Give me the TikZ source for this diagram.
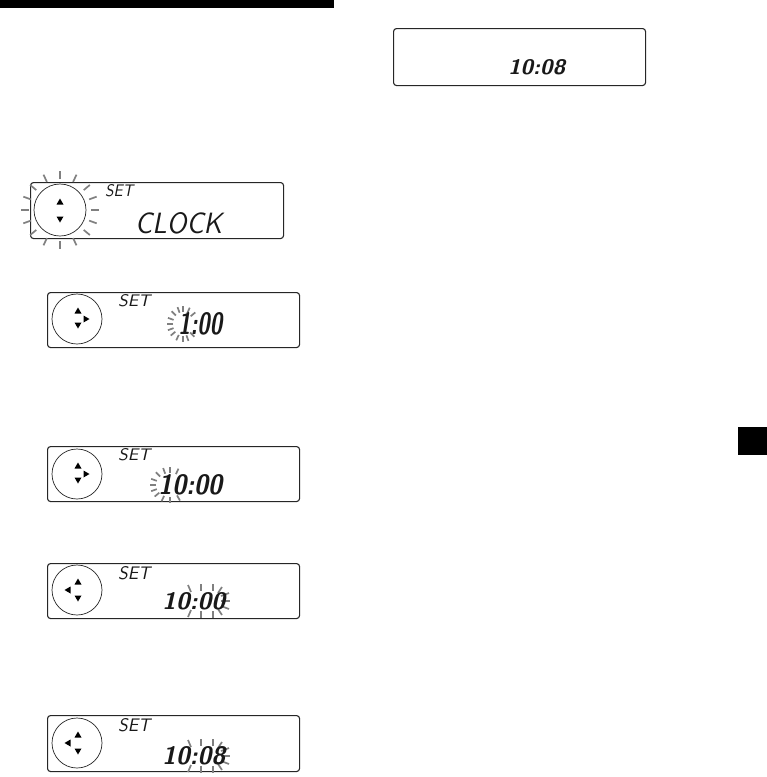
\documentclass[tikz,border=0pt]{standalone}
\usepackage{graphicx}
\tikzset{
 disp/.style={draw=black!85, line width=1.1pt, rounded corners=3pt, inner sep=0pt, anchor=north west},
 btn/.style={draw=black!85, line width=0.7pt, circle, inner sep=0pt},
 ray/.style={draw=black!50, line width=1.7pt},
 lcd/.style={inner sep=0pt, anchor=south west, text=black!90},
}
\newcommand{\lcdtext}[3]{\resizebox{#1pt}{#2pt}{\sffamily\itshape #3}}
\newcommand{\lcdnum}[3]{\resizebox{#1pt}{#2pt}{\sffamily\bfseries\itshape #3}}
\newcommand{\triup}[2]{\fill[shift={(#1,#2)}] (-3.5,2.5) -- (3.5,2.5) -- (0,-3.5) -- cycle;}
\newcommand{\tridown}[2]{\fill[shift={(#1,#2)}] (-3.5,-2.5) -- (3.5,-2.5) -- (0,3.5) -- cycle;}
\newcommand{\triright}[2]{\fill[shift={(#1,#2)}] (-2.5,-3.5) -- (-2.5,3.5) -- (3.5,0) -- cycle;}
\newcommand{\trileft}[2]{\fill[shift={(#1,#2)}] (2.5,-3.5) -- (2.5,3.5) -- (-3.5,0) -- cycle;}
% flashing rays around a minutes pair, centred at (#1,#2)
\newcommand{\minrays}[2]{%
  \begin{scope}[shift={(#1,#2)}]
  \draw[ray] (-16,-16) -- (-13,-9);
  \draw[ray] (-3,-17) -- (-3,-10);
  \draw[ray] (9,-17) -- (9,-10);
  \draw[ray] (18,-14) -- (14,-8);
  \draw[ray] (17,-5) -- (25,-8);
  \draw[ray] (17,0) -- (26,0);
  \draw[ray] (17,5) -- (25,8);
  \draw[ray] (-16,16) -- (-13,9);
  \draw[ray] (-3,17) -- (-3,10);
  \draw[ray] (9,17) -- (9,10);
  \draw[ray] (18,14) -- (14,8);
  \end{scope}}
\begin{document}
\begin{tikzpicture}[x=1pt,y=-1pt]
\useasboundingbox (0,0) rectangle (767,777);
% black bar and tab
\fill (0,0) rectangle (334,8);
\fill (738,427) rectangle (767,455);

% ---------- display 1 ----------
\node[disp, minimum width=253pt, minimum height=56pt] (d1) at (30,182) {};
\node[btn, minimum size=52pt] (b1) at (60,210) {};
\foreach \a in {0,20,40,65,90,115,140,160,180,200,220,245,270,295,320,340}
  \draw[ray, shift={(60,210)}] (\a:31) -- (\a:39);
\triup{60}{202}
\tridown{60}{219}
\node[lcd] (s1) at (105,197) {\lcdtext{28}{12}{SET}};
\node[lcd] (t1) at (135,234) {\lcdtext{87}{21}{CLOCK}};

% ---------- display 2 ----------
\node[disp, minimum width=252pt, minimum height=55pt] (d2) at (47,292) {};
\node[btn, minimum size=50pt] (b2) at (77,319) {};
\triup{78}{311}
\tridown{78}{325}
\triright{86}{319}
\foreach \a in {45,70,90,115,140,160,180,200,225,250,270,295,320}
  \draw[ray, shift={(183,324)}] ({10*cos(\a)},{12*sin(\a)}) -- ({16*cos(\a)},{18*sin(\a)});
\node[lcd] (s2) at (118,307) {\lcdtext{32}{12}{SET}};
\node[lcd] (t2) at (178,335) {\lcdnum{44}{22}{1:00}};

% ---------- display 3 ----------
\node[disp, minimum width=252pt, minimum height=55pt] (d3) at (47,446) {};
\node[btn, minimum size=50pt] (b3) at (77,474) {};
\triup{78}{466}
\tridown{78}{480}
\triright{86}{474}
\foreach \a in {60,90,115,140,160,180,200,225,250,270,295}
  \draw[ray, shift={(170,485)}] ({14*cos(\a)},{12*sin(\a)}) -- ({20*cos(\a)},{18*sin(\a)});
\node[lcd] (s3) at (118,461) {\lcdtext{32}{12}{SET}};
\node[lcd] (t3) at (158,495) {\lcdnum{64}{20}{10:00}};

% ---------- display 4 ----------
\node[disp, minimum width=252pt, minimum height=55pt] (d4) at (47,563) {};
\node[btn, minimum size=50pt] (b4) at (77,590) {};
\triup{78}{582}
\tridown{78}{598}
\trileft{68}{590}
\minrays{204}{601}
\node[lcd] (s4) at (118,580) {\lcdtext{32}{13}{SET}};
\node[lcd] (t4) at (162,610) {\lcdnum{63}{17}{10:00}};

% ---------- display 5 ----------
\node[disp, minimum width=252pt, minimum height=56pt] (d5) at (47,715) {};
\node[btn, minimum size=50pt] (b5) at (77,743) {};
\triup{78}{735}
\tridown{78}{751}
\trileft{68}{743}
\minrays{204}{756}
\node[lcd] (s5) at (118,732) {\lcdtext{32}{13}{SET}};
\node[lcd] (t5) at (162,765) {\lcdnum{63}{18}{10:08}};

% ---------- display 6 ----------
\node[disp, minimum width=252pt, minimum height=57pt] (d6) at (393,28) {};
\node[lcd] (t6) at (508,75) {\lcdnum{57}{15}{10:08}};
\end{tikzpicture}
\end{document}
